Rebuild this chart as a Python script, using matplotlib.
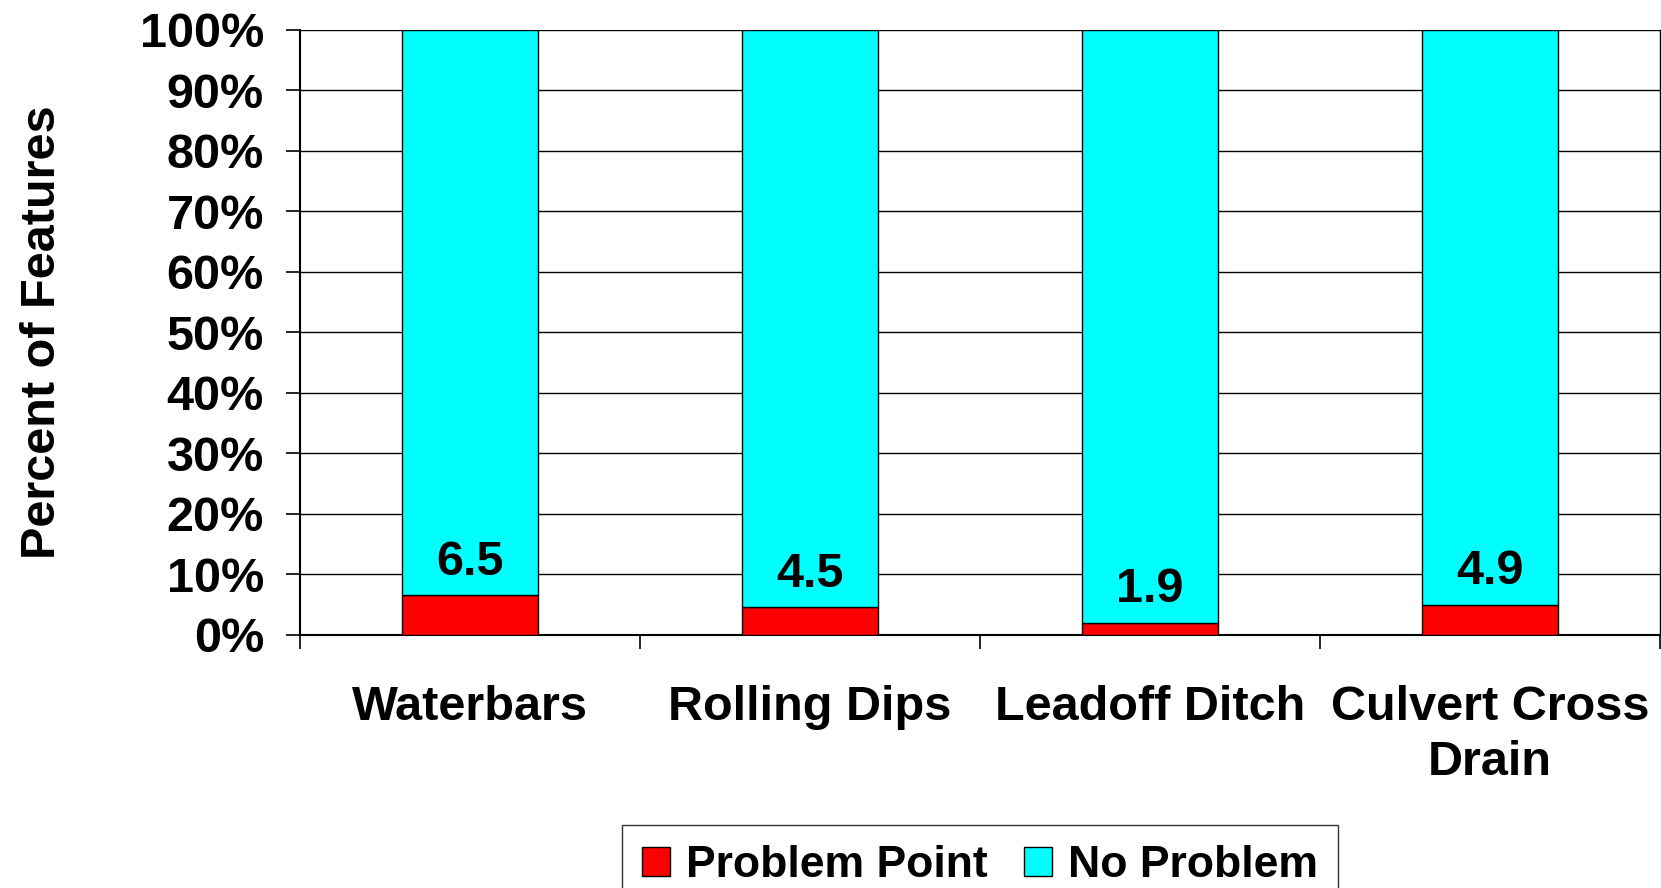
import matplotlib
matplotlib.use("Agg")
import matplotlib.pyplot as plt
import numpy as np

categories = ["Waterbars", "Rolling Dips", "Leadoff Ditch", "Culvert Cross\nDrain"]
problem_point = [6.5, 4.5, 1.9, 4.9]
no_problem = [100 - v for v in problem_point]
value_labels = ["6.5", "4.5", "1.9", "4.9"]
yticks = [0, 10, 20, 30, 40, 50, 60, 70, 80, 90, 100]
ytick_labels = [f"{t}%" for t in yticks]

W, H = 1661, 888
fig = plt.figure(figsize=(W / 100, H / 100), dpi=100)
plt.rcParams['font.family'] = ['Liberation Sans', 'DejaVu Sans']
plt.rcParams['font.weight'] = 'bold'
FS = 35

ax = fig.add_axes([300 / W, 1 - 634.7 / H, 1360 / W, 605 / H])
x = np.arange(len(categories))
bw = 0.40
ax.bar(x, problem_point, bw, color="#FF0000", edgecolor="black", linewidth=1.0, label="Problem Point", zorder=3)
ax.bar(x, no_problem, bw, bottom=problem_point, color="#00FFFF", edgecolor="black", linewidth=1.0, label="No Problem", zorder=3)

for xi, v, lab in zip(x, problem_point, value_labels):
    ax.annotate(lab, (xi, v), xytext=(0, 15), textcoords="offset points",
                ha="center", va="baseline", fontsize=FS, fontweight="bold")

ax.set_xlim(-0.5, len(categories) - 0.5)
ax.set_ylim(0, 100)
ax.set_yticks(yticks)
ax.set_yticklabels(ytick_labels, fontsize=FS, fontweight="bold")
ax.yaxis.grid(True, color="black", linewidth=1.0, zorder=0)
ax.set_axisbelow(True)

# category boundary ticks on x axis
ax.set_xticks(np.arange(-0.5, len(categories), 1.0))
ax.set_xticklabels([])
ax.set_xticks(x, minor=True)
ax.set_xticklabels(categories, minor=True, fontsize=FS, fontweight="bold", linespacing=1.3)
ax.tick_params(axis="x", which="minor", length=0, pad=36)
ax.tick_params(axis="x", which="major", length=10, width=1.2, direction="out")
ax.tick_params(axis="y", length=10, width=1.2, direction="out", pad=16)

for s in ["left", "bottom"]:
    ax.spines[s].set_linewidth(1.5)
ax.spines["top"].set_visible(False)
ax.spines["right"].set_linewidth(1.0)

ax.set_ylabel("Percent of Features", fontsize=FS, fontweight="bold", labelpad=54)

leg = fig.legend(loc="upper center", bbox_to_anchor=(980 / W, 1 - 825 / H), ncol=2,
                 frameon=True, fancybox=False, edgecolor="black",
                 handlelength=0.63, handleheight=0.63, handletextpad=0.38, columnspacing=0.8,
                 borderpad=0.45, borderaxespad=0, prop={"weight": "bold", "size": 32})
leg.get_frame().set_linewidth(1.0)

fig.savefig("out.png", dpi=100)
